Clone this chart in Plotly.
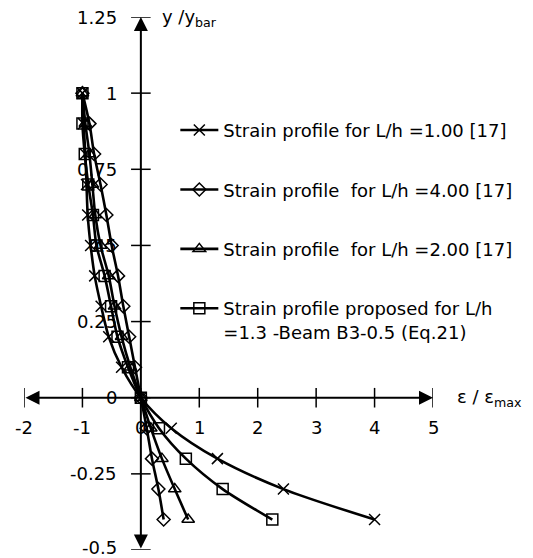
import plotly.graph_objects as go

# ---- data ----
y_vals = [1.0, 0.9, 0.8, 0.7, 0.6, 0.5, 0.4, 0.3, 0.2, 0.1, 0.0, -0.1, -0.2, -0.3, -0.4]
x_lh100 = [-1.0, -0.98, -0.95, -0.93, -0.91, -0.86, -0.79, -0.68, -0.55, -0.33, 0.0, 0.52, 1.31, 2.44, 4.0]
x_lh400 = [-1.0, -0.88, -0.80, -0.69, -0.59, -0.50, -0.39, -0.30, -0.20, -0.10, 0.0, 0.10, 0.19, 0.30, 0.39]
x_lh200 = [-1.0, -0.95, -0.88, -0.83, -0.78, -0.69, -0.55, -0.45, -0.33, -0.18, 0.0, 0.17, 0.36, 0.58, 0.81]
x_prop = [-1.0, -1.0, -0.96, -0.90, -0.82, -0.76, -0.62, -0.51, -0.40, -0.22, 0.0, 0.31, 0.77, 1.40, 2.25]

names = [
    "Strain profile for L/h =1.00 [17]",
    "Strain profile  for L/h =4.00 [17]",
    "Strain profile  for L/h =2.00 [17]",
    "Strain profile proposed for L/h<br>=1.3 -Beam B3-0.5 (Eq.21)",
]
x_ticks = [-2, -1, 0, 1, 2, 3, 4, 5]
x_tick_labels = ["-2", "-1", "0", "1", "2", "3", "4", "5"]
y_ticks = [-0.5, -0.25, 0, 0.25, 0.5, 0.75, 1.0, 1.25]
y_tick_labels = ["-0.5", "-0.25", "0", "0.25", "0.5", "0.75", "1", "1.25"]
x_title = "ε / ε<sub>max</sub>"
y_title = "y /y<sub>bar</sub>"

FONT = "DejaVu Sans"
FS = 18

fig = go.Figure()

series = [
    (x_lh100, "x-thin-open", 11),
    (x_lh400, "diamond-open", 10),
    (x_lh200, "triangle-up-open", 11),
    (x_prop, "square-open", 11),
]
for i, (xs, sym, sz) in enumerate(series):
    fig.add_trace(go.Scatter(
        x=xs, y=y_vals, mode="lines+markers", name=names[i],
        legendgroup=f"g{i}",
        line=dict(color="black", width=2.6, shape="spline", smoothing=0.8),
        marker=dict(symbol=sym, size=sz, color="black",
                    line=dict(color="black", width=1.5)),
    ))

# tick marks crossing the axes
fig.add_trace(go.Scatter(
    x=x_ticks, y=[0] * len(x_ticks), mode="markers", showlegend=False,
    hoverinfo="skip",
    marker=dict(symbol="line-ns", size=14, line=dict(color="black", width=1.5)),
))
fig.add_trace(go.Scatter(
    x=[0] * len(y_ticks), y=y_ticks, mode="markers", showlegend=False,
    hoverinfo="skip",
    marker=dict(symbol="line-ew", size=14, line=dict(color="black", width=1.5)),
))

annotations = []
# axes with arrows
annotations.append(dict(x=5, y=0, ax=-2, ay=0, xref="x", yref="y", axref="x", ayref="y",
                        text="", showarrow=True, arrowside="end+start",
                        arrowhead=2, startarrowhead=2, arrowwidth=2,
                        arrowsize=1.4, startarrowsize=1.4, arrowcolor="black",
                        standoff=0, startstandoff=0))
annotations.append(dict(x=0, y=1.25, ax=0, ay=-0.5, xref="x", yref="y", axref="x", ayref="y",
                        text="", showarrow=True, arrowside="end+start",
                        arrowhead=2, startarrowhead=2, arrowwidth=2,
                        arrowsize=1.4, startarrowsize=1.4, arrowcolor="black",
                        standoff=0, startstandoff=0))
for xv, lab in zip(x_ticks, x_tick_labels):
    annotations.append(dict(x=xv, y=0, xref="x", yref="y", text=lab, showarrow=False,
                            xanchor="center", yanchor="middle", yshift=-30,
                            font=dict(family=FONT, size=FS, color="black")))
for yv, lab in zip(y_ticks, y_tick_labels):
    annotations.append(dict(x=0, y=yv, xref="x", yref="y", text=lab, showarrow=False,
                            xanchor="right", yanchor="middle", xshift=-22,
                            yshift=3 if yv == -0.5 else 0,
                            font=dict(family=FONT, size=FS, color="black")))
annotations.append(dict(x=0, y=1.25, xref="x", yref="y", text=y_title, showarrow=False,
                        xanchor="left", yanchor="middle", xshift=19, yshift=-1,
                        font=dict(family=FONT, size=FS, color="black")))
annotations.append(dict(x=5, y=0, xref="x", yref="y", text=x_title, showarrow=False,
                        xanchor="left", yanchor="middle", xshift=22, yshift=0,
                        font=dict(family=FONT, size=FS, color="black")))

fig.update_layout(
    width=533, height=558,
    margin=dict(l=24, r=100, t=17, b=8, autoexpand=False),
    paper_bgcolor="white", plot_bgcolor="white",
    xaxis=dict(range=[-2, 5], visible=False),
    yaxis=dict(range=[-0.5, 1.25], visible=False),
    showlegend=True,
    legend=dict(x=0.37, y=0.822, xanchor="left", yanchor="top",
                bgcolor="rgba(0,0,0,0)", tracegroupgap=33, valign="top",
                itemwidth=38,
                font=dict(family=FONT, size=FS, color="black")),
    annotations=annotations,
    font=dict(family=FONT, size=FS, color="black"),
)

fig.write_html("out.html")
